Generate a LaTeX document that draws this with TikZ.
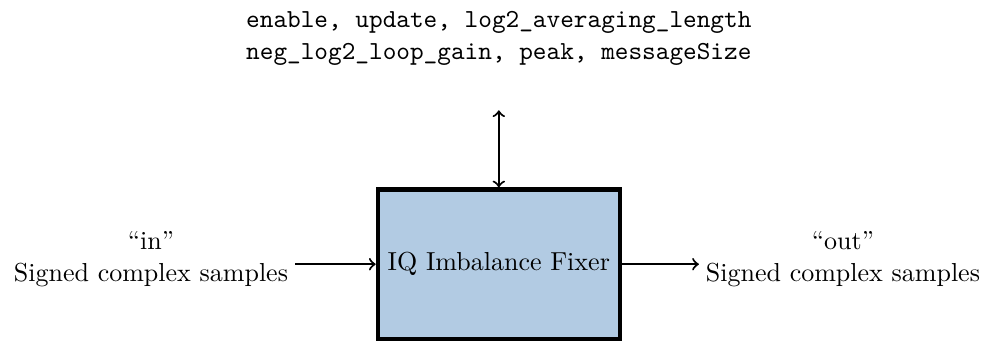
\documentclass[tikz,border=0pt]{standalone}
\usepackage{tikz}
\usetikzlibrary{arrows, positioning, calc}

\definecolor{fixerblue}{RGB}{178,203,227}

\begin{document}
\begin{tikzpicture}[
    block/.style={rectangle, draw=black, ultra thick, fill=fixerblue, minimum width=3.27cm, minimum height=2.02cm, align=center},
    port/.style={align=center, inner sep=2.5pt},
    arrow/.style={->, thick}
]
    \useasboundingbox (0,0) rectangle (13.39,-4.61);

    \node[block] (fixer) at (6.74,-3.57) {IQ Imbalance Fixer};
    \node[port] (in) at (2.04,-3.5) {``in''\\Signed complex samples};
    \node[port] (out) at (11.39,-3.5) {``out''\\Signed complex samples};
    \node[port, font=\ttfamily] (props) at (6.74,-0.52) {enable, update, log2\_averaging\_length\\neg\_log2\_loop\_gain, peak, messageSize};
    \coordinate (ctltop) at (6.74,-1.49);

    \draw[arrow] (in.east |- fixer) -- (fixer);
    \draw[arrow] (fixer) -- (out.west |- fixer);
    \draw[arrow, <->] (ctltop) -- (fixer.north);
\end{tikzpicture}
\end{document}
